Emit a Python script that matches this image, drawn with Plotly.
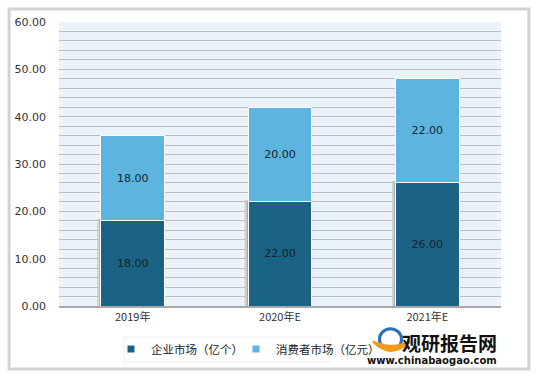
import plotly.graph_objects as go

categories = ["2019年", "2020年E", "2021年E"]
enterprise = [18, 22, 26]
consumer = [18, 20, 22]
series_names = ["企业市场（亿个）", "消费者市场（亿元）"]
y_ticks = [0, 10, 20, 30, 40, 50, 60]

dark = "#1B6384"
light = "#5DB5DF"
font_lat = "Verdana, DejaVu Sans, sans-serif"
font_cjk = "Noto Sans CJK SC, DejaVu Sans, sans-serif"

fig = go.Figure()
fig.add_trace(go.Bar(
    x=categories, y=enterprise, name=series_names[0], showlegend=False,
    marker=dict(color=dark, line=dict(color="white", width=1)),
    text=[f"{v:.2f}" for v in enterprise], textposition="inside",
    insidetextanchor="middle", textfont=dict(color="#14222E", size=11, family=font_lat),
    width=0.43,
))
fig.add_trace(go.Bar(
    x=categories, y=consumer, name=series_names[1], showlegend=False,
    marker=dict(color=light, line=dict(color="white", width=1)),
    text=[f"{v:.2f}" for v in consumer], textposition="inside",
    insidetextanchor="middle", textfont=dict(color="#14222E", size=11, family=font_lat),
    width=0.43,
))
# legend entries with small square markers
fig.add_trace(go.Scatter(x=[None], y=[None], mode="markers", name=series_names[0],
                         marker=dict(symbol="square", size=7, color=dark), legend="legend"))
fig.add_trace(go.Scatter(x=[None], y=[None], mode="markers", name=series_names[1],
                         marker=dict(symbol="square", size=7, color=light), legend="legend2"))

shapes = []
# soft shadow left of dark segments
for i, v in enumerate(enterprise):
    shapes.append(dict(type="rect", xref="x", yref="y", x0=i - 0.24, x1=i - 0.2, y0=0, y1=v + 0.4,
                       fillcolor="rgba(110,110,110,0.25)", line=dict(width=0), layer="below"))
    shapes.append(dict(type="rect", xref="x", yref="y", x0=i - 0.225, x1=i - 0.2, y0=0, y1=v + 0.2,
                       fillcolor="rgba(90,90,90,0.35)", line=dict(width=0), layer="below"))
# outer frame
shapes.append(dict(type="rect", xref="paper", yref="paper",
                   x0=-0.113, x1=1.063, y0=-0.222, y1=1.046,
                   line=dict(color="#D2D2D2", width=3)))
# legend box
shapes.append(dict(type="rect", xref="paper", yref="paper",
                   x0=(124 - 59) / 442, x1=(330 - 59) / 442, y0=(306 - 362) / 284, y1=(306 - 337) / 284,
                   fillcolor="white", line=dict(color="#EEEEEE", width=1)))
# logo
shapes.append(dict(type="circle", xref="paper", yref="paper",
                   x0=0.725, x1=0.775, y0=-0.155, y1=-0.08,
                   line=dict(color="#2A6FB8", width=3)))
shapes.append(dict(type="path", xref="paper", yref="paper",
                   path="M 0.71 -0.125 Q 0.75 -0.19 0.795 -0.125 Q 0.75 -0.155 0.71 -0.125 Z",
                   fillcolor="#F39A1E", line=dict(color="#F39A1E", width=2)))

leg_common = dict(orientation="h", xref="container", yref="container",
                  y=1 - 349 / 379, xanchor="left", yanchor="middle",
                  bgcolor="rgba(0,0,0,0)", font=dict(size=11.5, family=font_cjk, color="#222"),
                  itemwidth=30)

fig.update_layout(
    width=539, height=379,
    margin=dict(l=59, r=38, t=22, b=73, autoexpand=False),
    paper_bgcolor="white", plot_bgcolor="#EBF2F9",
    barmode="stack", bargap=0.57,
    showlegend=True,
    legend=dict(x=(151 - 40) / 539, **leg_common),
    legend2=dict(x=(276 - 40) / 539, **leg_common),
    font=dict(family=font_lat, size=11, color="#333"),
    shapes=shapes,
)
fig.update_yaxes(range=[0, 60], tickvals=y_ticks, ticktext=[f"{v:.2f}" for v in y_ticks],
                 showgrid=True, gridcolor="#BDBDBD", gridwidth=1,
                 minor=dict(dtick=2, showgrid=True, gridcolor="#BDBDBD", gridwidth=1),
                 zeroline=False, ticks="", ticklabelstandoff=12,
                 tickfont=dict(size=11, family=font_lat, color="#333"))
fig.update_xaxes(showline=True, linecolor="#A8A8A8", linewidth=2, ticks="",
                 tickfont=dict(size=11, family=font_cjk, color="#333"))

# watermark
fig.add_annotation(xref="paper", yref="paper", x=0.995, y=-0.075, xanchor="right", yanchor="top",
                   text="<b>观研报告网</b>", showarrow=False,
                   font=dict(size=19, family=font_cjk, color="#111"))
fig.add_annotation(xref="paper", yref="paper", x=0.995, y=-0.165, xanchor="right", yanchor="top",
                   text="<b>www.chinabaogao.com</b>", showarrow=False,
                   font=dict(size=10, family="DejaVu Sans, sans-serif", color="#111"))

fig.write_html("out.html", config={"displayModeBar": False},
               post_script="document.body.style.margin='0';document.body.style.padding='0';")
